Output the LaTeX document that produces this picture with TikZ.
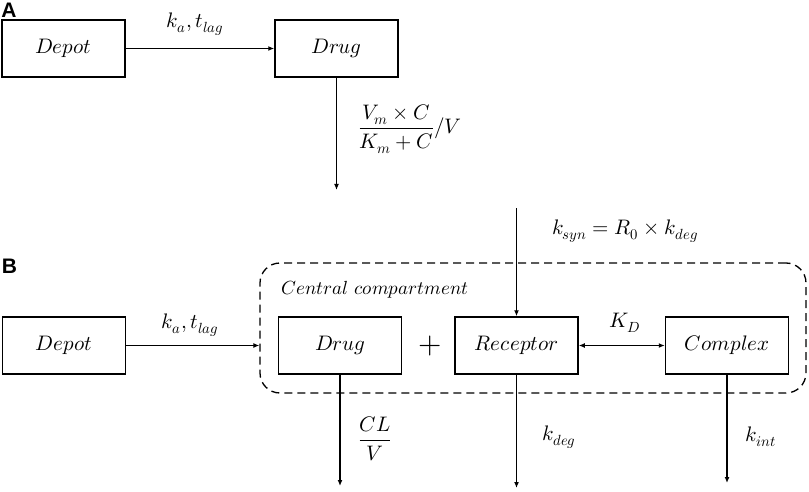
\documentclass[tikz,border=0pt]{standalone}
\usepackage{amsmath}
\usepackage{fontspec}
\usepackage{unicode-math}
\setmathfont{Latin Modern Math}
\usetikzlibrary{arrows.meta}
\newfontfamily\panelfont{Liberation Sans}
\begin{document}
\begin{tikzpicture}[x=1pt,y=-1pt,
  box/.style={draw,line width=1.5pt,minimum width=123pt,minimum height=57pt,inner sep=0pt,font=\fontsize{21}{25}\selectfont},
  lbl/.style={font=\fontsize{21}{25}\selectfont,inner sep=0pt},
  panel/.style={font=\panelfont\bfseries\fontsize{21}{24}\selectfont,inner sep=0pt},
  conn/.style={line width=1.2pt,-{Latex[length=6pt,width=5pt]}},
  bconn/.style={line width=1.2pt,{Latex[length=6pt,width=5pt]}-{Latex[length=6pt,width=5pt]}}]
\useasboundingbox (0,0) rectangle (809,492);
% Panel A
\node[panel] (labA) at (9,10) {A};
\node[box] (depotA) at (63.5,48.5) {$Depot$};
\node[box] (drugA) at (336.5,48.5) {$Drug$};
\coordinate (endA) at (336.5,190);
\draw[conn] (depotA) -- (drugA);
\draw[conn] (drugA) -- (endA);
\node[lbl] (kaA) at (195,24) {$k_a,t_{lag}$};
\node[lbl] (vmA) at (410,129) {$\dfrac{V_m\times C}{K_m+C}/V$};
% Panel B
\node[panel] (labB) at (9.5,266) {B};
\node[draw,dashed,dash pattern=on 8pt off 5pt,line width=1.3pt,rounded corners=20pt,minimum width=546pt,minimum height=130pt,inner sep=0pt] (cc) at (533,328) {};
\node[lbl,font=\fontsize{19}{23}\selectfont] (cctext) at (375,290) {$Central\ compartment$};
\node[box] (depotB) at (64,345.5) {$Depot$};
\node[box] (drugB) at (340,345.5) {$Drug$};
\node[box] (rec) at (516.5,345.5) {$Receptor$};
\node[box] (cplx) at (727,345.5) {$Complex$};
\node[lbl,font=\fontsize{30}{32}\selectfont] (plus) at (430,346) {$+$};
\coordinate (synstart) at (516.5,208);
\coordinate (endDrug) at (340,486);
\coordinate (endRec) at (516.5,488);
\coordinate (endCplx) at (727,483);
\draw[conn] (depotB) -- (depotB -| cc.west);
\draw[bconn] (rec) -- (cplx);
\draw[conn] (synstart) -- (rec);
\draw[conn] (drugB) -- (endDrug);
\draw[conn] (rec) -- (endRec);
\draw[conn] (cplx) -- (endCplx);
\node[lbl] (kaB) at (190,325) {$k_a,t_{lag}$};
\node[lbl] (kd) at (625,323) {$K_D$};
\node[lbl] (ksyn) at (625,231) {$k_{syn}=R_0\times k_{deg}$};
\node[lbl] (clv) at (375,439) {$\dfrac{CL}{V}$};
\node[lbl] (kdeg) at (559,437) {$k_{deg}$};
\node[lbl] (kint) at (761,437) {$k_{int}$};
\end{tikzpicture}
\end{document}
